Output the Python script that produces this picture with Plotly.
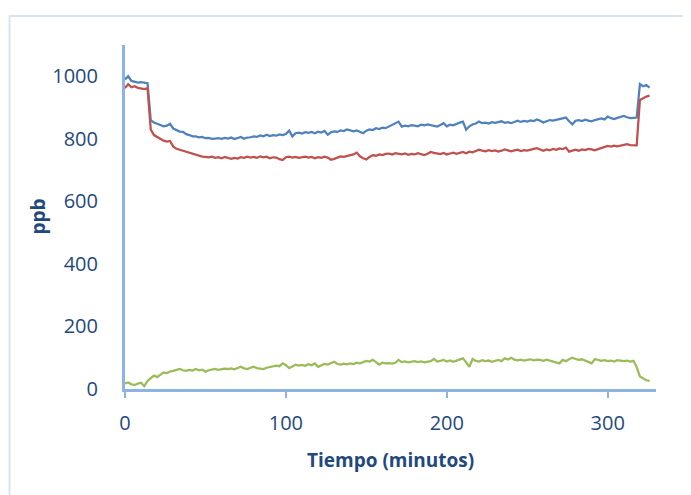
import plotly.graph_objects as go

# Time (minutes), sampled every 2 minutes
tiempo = list(range(0, 327, 2))

# Blue series (ppb)
serie_azul = [
    990, 1000, 985, 982, 980, 981, 979, 978, 860, 852,
    848, 843, 840, 842, 848, 833, 828, 823, 822, 815,
    812, 808, 808, 805, 806, 802, 803, 800, 801, 802,
    800, 803, 801, 804, 799, 803, 806, 800, 804, 805,
    808, 806, 811, 808, 813, 809, 812, 810, 814, 812,
    815, 826, 808, 818, 820, 817, 821, 819, 822, 818,
    823, 820, 825, 813, 821, 824, 822, 827, 825, 830,
    828, 824, 827, 822, 818, 826, 830, 828, 834, 831,
    836, 834, 839, 843, 848, 855, 839, 842, 840, 844,
    842, 840, 845, 843, 846, 844, 841, 839, 844, 850,
    840, 845, 843, 848, 852, 855, 829, 840, 846, 849,
    855, 850, 852, 849, 853, 851, 854, 856, 851, 853,
    850, 855, 858, 854, 857, 855, 859, 857, 862, 858,
    852, 856, 860, 858, 861, 863, 866, 868, 856, 846,
    858, 860, 857, 861, 858, 856, 860, 863, 865, 862,
    871, 866, 863, 867, 870, 873, 869, 866, 867, 868,
    975, 968, 972, 964,
]

# Red series (ppb)
serie_roja = [
    962, 975, 965, 968, 963, 961, 959, 962, 830, 812,
    806, 798, 794, 791, 793, 775, 768, 765, 762, 759,
    756, 752, 748, 745, 743, 742, 741, 743, 739, 741,
    738, 742, 740, 736, 739, 737, 741, 739, 743, 740,
    742, 739, 744, 741, 743, 738, 741, 740, 735, 732,
    741, 743, 740, 742, 739, 741, 743, 740, 742, 738,
    741, 739, 743, 740, 733, 736, 741, 744, 742, 745,
    748, 750, 756, 744, 738, 734, 742, 748, 746, 750,
    748, 752, 753, 750, 754, 752, 750, 753, 749, 752,
    750, 754, 751, 748, 752, 758, 755, 753, 751, 755,
    750, 753, 756, 752, 755, 758, 754, 759, 757, 760,
    765, 762, 760, 764, 761, 763, 759, 762, 766, 763,
    760, 763, 765, 761, 764, 762, 766, 768, 770, 765,
    762, 766, 763, 768, 765, 769, 767, 772, 759, 762,
    765, 762, 766, 764, 768, 766, 763, 767, 770, 774,
    777, 775, 778, 776, 779, 781, 783, 780, 779, 779,
    924, 930, 935, 938,
]

# Green series (ppb)
serie_verde = [
    18, 21, 15, 13, 17, 20, 9, 26, 35, 43,
    38, 47, 53, 51, 56, 58, 61, 64, 60, 58,
    61, 59, 64, 60, 62, 55, 60, 62, 64, 61,
    63, 65, 64, 66, 63, 68, 71, 66, 64, 68,
    71, 67, 65, 64, 68, 70, 72, 75, 73, 82,
    76, 67, 72, 78, 75, 77, 74, 79, 76, 82,
    71, 75, 80, 78, 82, 87, 80, 78, 81, 79,
    82, 80, 84, 82, 86, 90, 88, 93, 86, 78,
    84, 82, 83, 81, 84, 93, 86, 88, 85, 87,
    89, 86, 88, 85, 87, 89, 96, 88, 90, 93,
    88, 91, 87, 90, 94, 98, 85, 71, 96, 90,
    88, 92, 89, 91, 87, 90, 93, 89, 98, 94,
    100, 94, 92, 94, 91, 93, 95, 92, 94, 93,
    90, 94, 91, 88, 84, 82, 93, 89, 95, 100,
    96, 93, 95, 91, 88, 82, 96, 93, 90, 92,
    89, 91, 88, 92, 90, 89, 91, 88, 90, 70,
    40, 34, 28, 26,
]

x_ticks = [0, 100, 200, 300]
y_ticks = [0, 200, 400, 600, 800, 1000]

axis_color = "#8DB3E2"
text_color = "#1F497D"
font_family = "Open Sans, Noto Sans, sans-serif"

fig = go.Figure()
for vals, col, name in [
    (serie_azul, "#4F81BD", "Serie 1"),
    (serie_roja, "#C0504D", "Serie 2"),
    (serie_verde, "#9BBB59", "Serie 3"),
]:
    fig.add_trace(go.Scatter(x=tiempo, y=vals, mode="lines", name=name,
                             line=dict(color=col, width=2.25)))

fig.update_layout(
    width=691, height=495,
    margin=dict(l=117, r=43, t=37, b=114),
    paper_bgcolor="white", plot_bgcolor="white",
    showlegend=False,
    font=dict(family=font_family, color=text_color, size=20),
)
fig.update_xaxes(
    range=[0, 330], tickvals=x_ticks, showgrid=False, zeroline=False,
    showline=True, linecolor=axis_color, linewidth=3,
    ticks="outside", ticklen=6, tickwidth=2, tickcolor=axis_color,
    tickfont=dict(size=20, color=text_color), ticklabelstandoff=8,
)
fig.update_yaxes(
    range=[0, 1100], tickvals=y_ticks, showgrid=False, zeroline=False,
    showline=True, linecolor=axis_color, linewidth=3,
    ticks="", tickfont=dict(size=20, color=text_color), ticklabelstandoff=20,
)

fig.add_annotation(text="<b>Tiempo (minutos)</b>", xref="paper", yref="paper",
                   x=0.5, y=(389 - 460) / 344, xanchor="center", yanchor="middle",
                   showarrow=False, font=dict(size=19, color=text_color))
fig.add_annotation(text="<b>ppb</b>", xref="paper", yref="paper",
                   x=(38 - 125.5) / 531.2, y=0.5, xanchor="center", yanchor="middle",
                   textangle=-90, showarrow=False, font=dict(size=19, color=text_color))

# Chart area border (light blue frame, left and top edges visible)
fig.add_shape(type="rect", xref="paper", yref="paper",
              x0=(10 - 125.5) / 531.2, x1=(700 - 125.5) / 531.2,
              y0=(389 - 505) / 344, y1=(389 - 16) / 344,
              line=dict(color="#D9E4F2", width=2), layer="below")

fig.write_html("out.html")
